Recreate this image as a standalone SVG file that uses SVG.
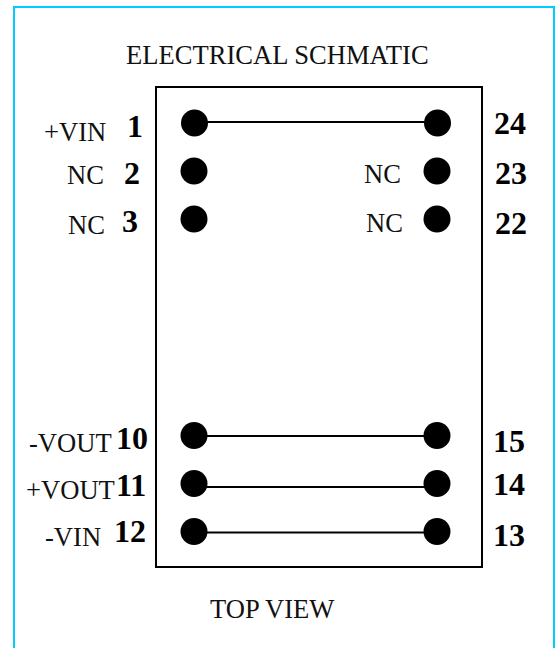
<svg xmlns="http://www.w3.org/2000/svg" width="560" height="648" viewBox="0 0 560 648">
<style>
text{font-family:"Liberation Serif","Times New Roman",serif;fill:#111}
.l{font-size:26.6px}
.n{font-size:32px;font-weight:bold;fill:#000}
.pin{fill:#000}
.w{stroke:#000;stroke-width:2;fill:none}
</style>
<rect width="560" height="648" fill="#fff"/>
<path id="frame" d="M14 648V7H554V648" fill="none" stroke="#00ccff" stroke-width="2"/>
<rect id="package" class="w" x="156" y="87" width="326" height="480"/>
<g id="connectors">
<line class="w" x1="194" y1="122" x2="437" y2="122"/>
<line class="w" x1="194" y1="436" x2="437" y2="436"/>
<line class="w" x1="194" y1="487" x2="437" y2="487"/>
<line class="w" x1="194" y1="532.5" x2="437" y2="532.5"/>
</g>
<text id="title" class="l" x="126" y="64">ELECTRICAL SCHMATIC</text>
<text id="caption" class="l" x="210" y="618">TOP VIEW</text>
<g id="pin1"><circle class="pin" cx="194.5" cy="123" r="13.5"/><text class="l" x="44" y="141">+VIN</text><text class="n" x="127" y="137">1</text></g>
<g id="pin2"><circle class="pin" cx="194" cy="171" r="13.5"/><text class="l" x="67" y="184">NC</text><text class="n" x="124" y="184">2</text></g>
<g id="pin3"><circle class="pin" cx="194" cy="219" r="13.5"/><text class="l" x="68" y="234">NC</text><text class="n" x="122" y="232">3</text></g>
<g id="pin10"><circle class="pin" cx="194" cy="435.5" r="13.5"/><text class="l" x="29" y="452">-VOUT</text><text class="n" x="116" y="449">10</text></g>
<g id="pin11"><circle class="pin" cx="194" cy="483.5" r="13.5"/><text class="l" x="26" y="499">+VOUT</text><text class="n" x="116" y="496">11</text></g>
<g id="pin12"><circle class="pin" cx="194" cy="531.5" r="13.5"/><text class="l" x="45" y="546">-VIN</text><text class="n" x="114" y="542">12</text></g>
<g id="pin24"><circle class="pin" cx="437.5" cy="123" r="13.5"/><text class="n" x="494" y="134">24</text></g>
<g id="pin23"><circle class="pin" cx="437" cy="171" r="13.5"/><text class="l" x="364" y="183">NC</text><text class="n" x="495" y="184">23</text></g>
<g id="pin22"><circle class="pin" cx="437" cy="219" r="13.5"/><text class="l" x="366" y="232">NC</text><text class="n" x="495" y="234">22</text></g>
<g id="pin15"><circle class="pin" cx="437" cy="435.5" r="13.5"/><text class="n" x="493" y="452">15</text></g>
<g id="pin14"><circle class="pin" cx="437" cy="483.5" r="13.5"/><text class="n" x="493" y="495">14</text></g>
<g id="pin13"><circle class="pin" cx="437" cy="531.5" r="13.5"/><text class="n" x="493" y="546">13</text></g>
</svg>
